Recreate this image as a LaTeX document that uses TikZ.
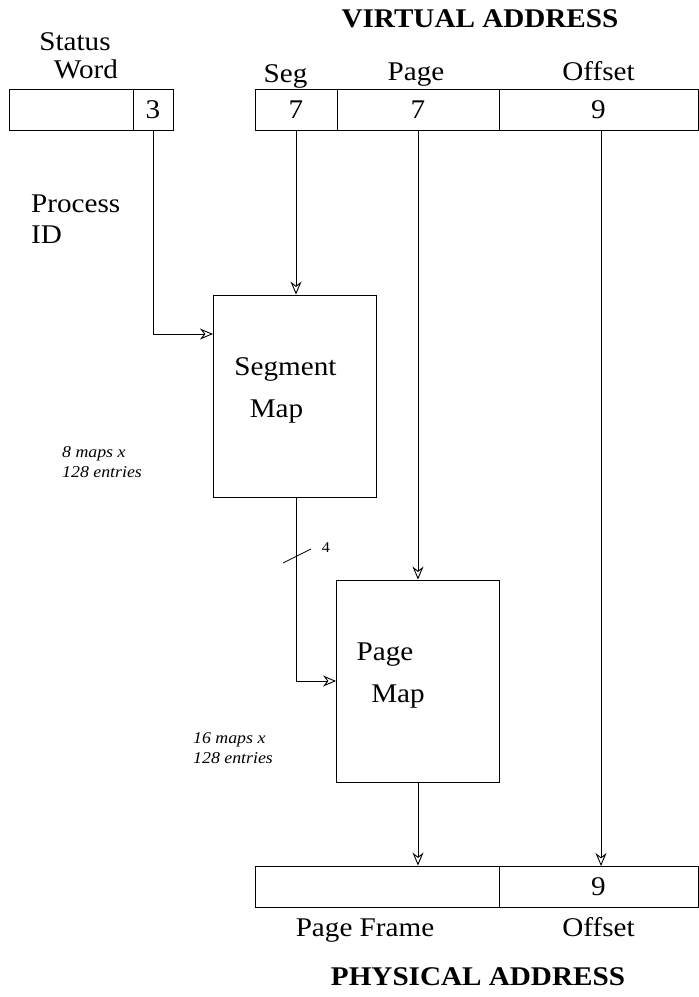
\documentclass[tikz,border=0pt]{standalone}
\usepackage{fontspec}
\setmainfont{Liberation Serif}[FakeStretch=1.08]
\usetikzlibrary{arrows.meta,positioning,calc}

\begin{document}
\begin{tikzpicture}[
    x=1pt, y=-1pt,
    >={Stealth[open, length=13pt, width=11pt]},
    cell/.style={draw, rectangle, inner sep=0pt, minimum height=41pt, line width=0.9pt,
                 font=\fontsize{27}{30}\selectfont},
    map box/.style={draw, rectangle, inner sep=0pt, minimum width=163pt, minimum height=202pt, line width=0.9pt},
    label txt/.style={font=\fontsize{27}{30}\selectfont, inner sep=0pt, anchor=base},
    title txt/.style={font=\fontsize{27}{30}\selectfont\bfseries, inner sep=0pt, anchor=base},
    note txt/.style={font=\fontsize{16.5}{20}\selectfont\itshape, inner sep=0pt, anchor=base west},
    flow/.style={->, line width=0.9pt},
]
\useasboundingbox (0,0) rectangle (699,997);

% Status word register
\node[cell, minimum width=124pt] (sw) at (71,109.5) {};
\node[cell, minimum width=40pt] (sw3) at (153,109.5) {3};
\node[label txt] (swlbl1) at (75,50) {Status};
\node[label txt] (swlbl2) at (86,78) {Word};

% Virtual address register
\node[title txt] (vtitle) at (480,27) {VIRTUAL ADDRESS};
\node[cell, minimum width=82pt] (vseg) at (296,109.5) {7};
\node[cell, minimum width=162pt] (vpage) at (418,109.5) {7};
\node[cell, minimum width=199pt] (voff) at (598.5,109.5) {9};
\node[label txt] (seglbl) at (285.5,82) {Seg};
\node[label txt] (pagelbl) at (416,80) {Page};
\node[label txt] (offlbl) at (598.5,80) {Offset};

% Process ID
\node[label txt, anchor=base west] (pid1) at (31,212) {Process};
\node[label txt, anchor=base west] (pid2) at (31,243) {ID};

% Segment map
\node[map box] (segmap) at (295,396) {};
\node[label txt] (segtxt1) at (285.5,375) {Segment};
\node[label txt] (segtxt2) at (276.5,417) {Map};
\node[note txt] (segnote1) at (62,457) {8 maps x};
\node[note txt] (segnote2) at (62,477) {128 entries};

% Page map
\node[map box] (pagemap) at (418,681) {};
\node[label txt] (pgtxt1) at (385,660) {Page};
\node[label txt] (pgtxt2) at (398,702) {Map};
\node[note txt] (pgnote1) at (193,743) {16 maps x};
\node[note txt] (pgnote2) at (193,763) {128 entries};

% Physical address register
\node[cell, minimum width=244pt] (pframe) at (377,886.5) {};
\node[cell, minimum width=199pt] (poff) at (598.5,886.5) {9};
\node[label txt] (pframelbl) at (365,936) {Page Frame};
\node[label txt] (pofflbl) at (598.5,936) {Offset};
\node[title txt] (ptitle) at (478,985) {PHYSICAL ADDRESS};

% Connectors
\coordinate (segin) at (213,334);
\draw[flow] (sw3.south) |- (segin);
\draw[flow] (vseg.south) -- (vseg.south |- segmap.north);
\draw[flow] (vseg.south |- segmap.south) |- (pagemap.west);
\draw[flow] (vpage.south) -- (pagemap.north);
\draw[flow] (pagemap.south) -- (pagemap.south |- pframe.north);
\draw[flow] (voff.south -| 601,0) -- (601,866);

% Bus width tick
\coordinate (tickA) at (283,563);
\coordinate (tickB) at (311,549);
\draw[line width=0.8pt] (tickA) -- (tickB);
\node[font=\fontsize{15}{17}\selectfont, inner sep=0pt] (buswidth) at (326,548) {4};

\end{tikzpicture}
\end{document}
